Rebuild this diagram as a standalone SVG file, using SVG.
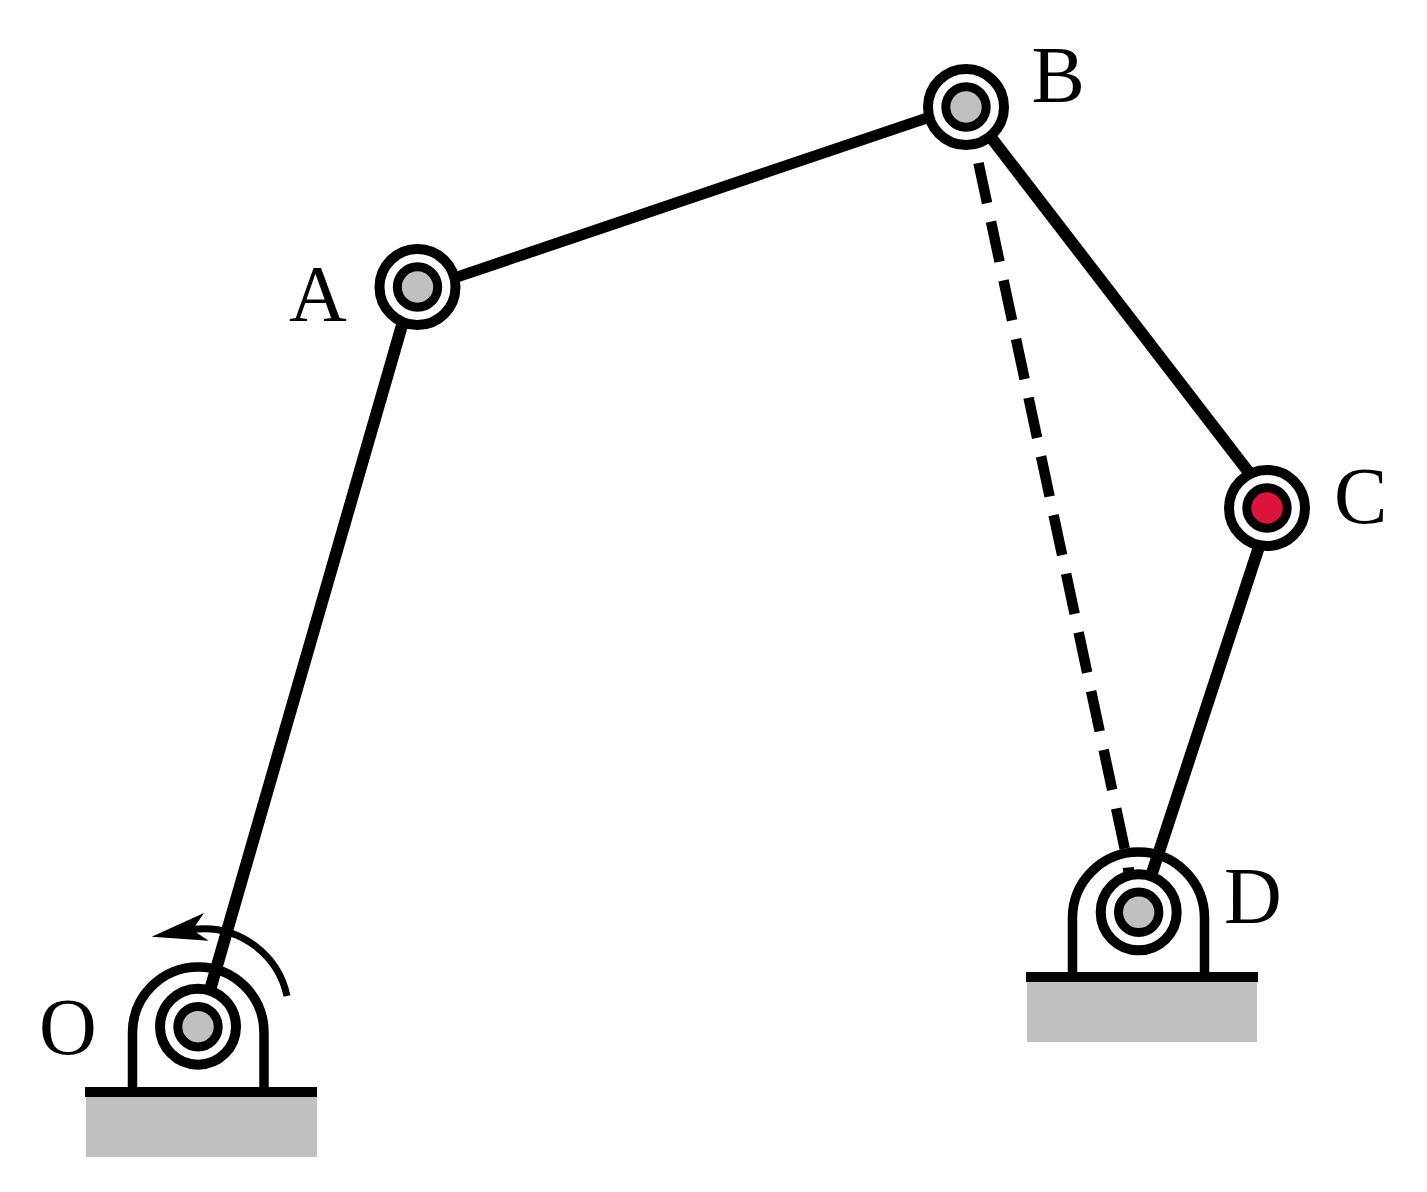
<svg xmlns="http://www.w3.org/2000/svg" width="1427" height="1192" viewBox="0 0 1427 1192">
<style>
.link{fill:none;stroke:#000;stroke-width:12}
.dash{stroke-width:10.500;stroke-dasharray:41 19}
.outer{fill:#fff;stroke:#000;stroke-width:10}
.inner{fill:#c0c0c0;stroke:#000;stroke-width:9}
.red{fill:#dc143c}
.house{fill:none;stroke:#000;stroke-width:9.500}
.base{fill:#c0c0c0}
.bar{fill:#000}
.label{font-family:"Liberation Serif","Times New Roman",serif;font-size:80px;fill:#000}
</style>
<rect width="1427" height="1192" fill="#fff"/>
<g id="connectors">
<line class="link" x1="210.300" y1="989" x2="403.200" y2="321"/>
<line class="link" x1="453" y1="278.400" x2="934" y2="115.600" style="stroke-width:11"/>
<line class="link" x1="990.600" y1="136.900" x2="1249.400" y2="473.100"/>
<line class="link" x1="1259.200" y1="546.200" x2="1150.800" y2="876.800"/>
<line class="link dash" x1="978.500" y1="163" x2="1125" y2="850"/>
<line x1="1123" y1="870" x2="1134" y2="869" stroke="#000" stroke-width="4"/>
<path id="rotation" d="M287 996A85 85 0 0 0 197 929L192 929" fill="none" stroke="#000" stroke-width="7"/>
<polygon points="151.700,936.700 204,913 195,926 196.700,932.700 208.700,940.700" fill="#000"/>
</g>
<g id="node-A"><circle class="outer" cx="417.500" cy="287" r="38"/><circle class="inner" cx="417.500" cy="287" r="20.200"/><text class="label" x="289" y="321">A</text></g>
<g id="node-B"><circle class="outer" cx="966" cy="107" r="38"/><circle class="inner" cx="966" cy="107" r="20.200"/><text class="label" x="1031.600" y="102">B</text></g>
<g id="node-C"><circle class="outer" cx="1267" cy="508" r="38"/><circle class="inner red" cx="1267" cy="508" r="20.200"/><text class="label" x="1334" y="523">C</text></g>
<g id="node-D"><path class="house" d="M1072.500 973V918A66 66 0 0 1 1204.500 918V973"/><rect class="base" x="1027" y="981" width="230" height="61"/><rect class="bar" x="1026" y="972" width="232" height="10"/><circle class="outer" cx="1138.700" cy="912.300" r="38"/><circle class="inner" cx="1138.700" cy="912.300" r="20.200"/><text class="label" x="1224" y="923">D</text></g>
<g id="node-O"><path class="house" d="M132.500 1088V1032.700A65.750 65.750 0 0 1 264 1032.700V1088"/><rect class="base" x="86" y="1096" width="231" height="61"/><rect class="bar" x="85" y="1087" width="232" height="10"/><circle class="outer" cx="198" cy="1026.700" r="38"/><circle class="inner" cx="198" cy="1026.700" r="20.200"/><text class="label" x="39" y="1054">O</text></g>
</svg>
